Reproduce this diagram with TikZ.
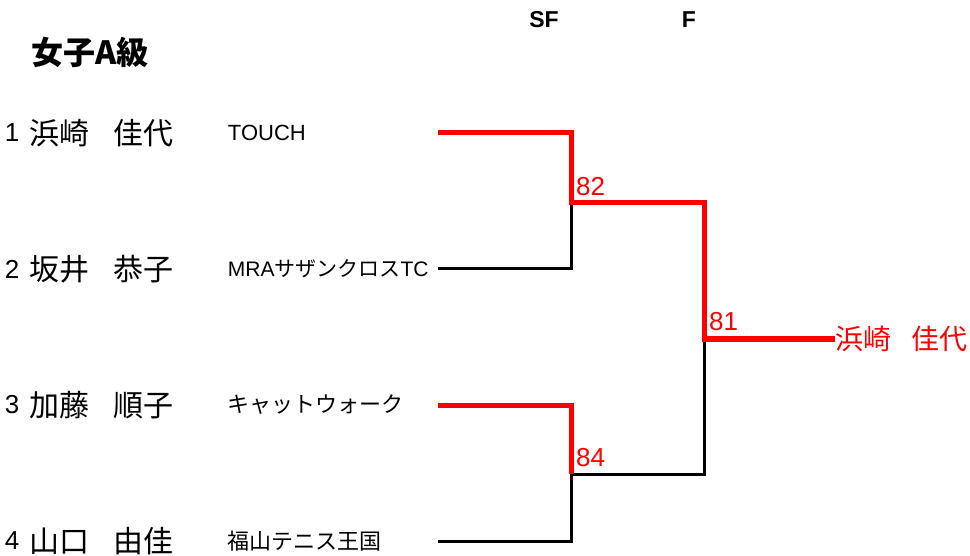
\documentclass[tikz,border=0pt]{standalone}
\usepackage{fontspec}
\setmainfont{Liberation Sans}
\newfontfamily\jp{Noto Sans CJK JP}
\usetikzlibrary{matrix}
\newlength{\mythickline}
\setlength{\mythickline}{5pt}
\definecolor{winred}{RGB}{255,0,0}

\begin{document}
\begin{tikzpicture}[x=1pt,y=-1pt,
        lost/.style={draw=black,line width=3pt,line join=miter},
        won/.style={draw=winred,line width=\mythickline,line join=miter},
        score/.style={text=winred,font=\fontsize{26}{26}\selectfont,inner sep=0pt,anchor=south west},
        round/.style={font=\fontsize{23}{23}\selectfont\bfseries,inner sep=0pt}
    ]
        \useasboundingbox (0,0) rectangle (970,556);
        \node[anchor=west,inner sep=0pt,font=\jp\bfseries\fontsize{32}{32}\selectfont] (title) at (31,52) {女子A級};
        \node[round] (sf) at (544,20) {SF};
        \node[round] (fin) at (689,20) {F};
        \matrix (list) [%
            matrix of nodes,%
            anchor=north west,%
            inner sep=0pt,outer sep=0pt,%
            column sep=0pt,%
            row sep=0pt,
            nodes={
                anchor=west,
                inner sep=0pt,outer sep=0pt,
                minimum height=136pt,
                align=left,
                },
            column 1/.style={nodes={text width=25pt,font=\fontsize{26}{26}\selectfont}},
            column 2/.style={nodes={text width=198pt,font=\jp\fontsize{30}{30}\selectfont}},
            column 3/.style={nodes={font=\fontsize{22}{22}\selectfont}}
            ] at (5,65)
        {
        1 & 浜崎\hspace{24pt}佳代 & TOUCH\\
        2 & 坂井\hspace{24pt}恭子 & {\fontsize{21}{21}\selectfont MRA\jp サザンクロス\rmfamily TC}\\
        3 & 加藤\hspace{24pt}順子 & {\jp キャットウォーク}\\
        4 & 山口\hspace{24pt}由佳 & {\jp 福山テニス王国}\\
        };
        % line ends beside the teams
        \path (list-1-3.west) ++(210,0) coordinate (e1);
        \path (list-2-3.west) ++(210,0) coordinate (e2);
        \path (list-3-3.west) ++(210,0) coordinate (e3);
        \path (list-4-3.west) ++(210,0) coordinate (e4);
        % match points
        \coordinate (m82) at (571,203);
        \coordinate (m84) at (571,474);
        \coordinate (m81) at (704,339);
        \node[anchor=west,inner sep=0pt,text=winred,font=\jp\fontsize{28}{28}\selectfont] (champ) at (835,339) {浜崎\hspace{20pt}佳代};
        % losers first
        \draw[lost] (e2) -| (m82);
        \draw[lost] (e4) -| (m84);
        \draw[lost] (m84) -| (m81);
        % winners on top
        \draw[won] (e1) -| (m82) -| (m81) -- (champ.west);
        \draw[won] (e3) -| (m84);
        \node[score] (s82) at ([xshift=5pt,yshift=7pt]m82) {82};
        \node[score] (s84) at ([xshift=5pt,yshift=7pt]m84) {84};
        \node[score] (s81) at ([xshift=5pt,yshift=8pt]m81) {81};
\end{tikzpicture}
\end{document}
